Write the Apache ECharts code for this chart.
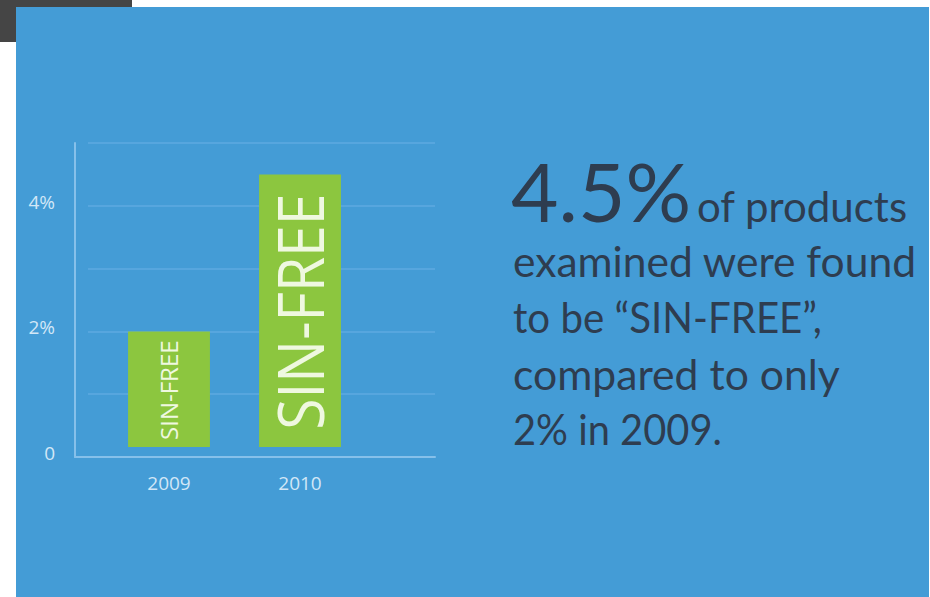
<!DOCTYPE html>
<html>
<head>
<meta charset="utf-8">
<script src="https://cdn.jsdelivr.net/npm/echarts@6/dist/echarts.min.js"></script>
<style>
html,body{margin:0;padding:0;background:#fff;}
#chart{width:930px;height:597px;}
</style>
</head>
<body>
<div id="chart"></div>
<script>
// ---- data ----
const categories = ['2009', '2010'];
const sinFreeShare = [2, 4.5];
const yTickValues = [0, 2, 4];
const yTickLabels = ['0', '2%', '4%'];
const barLabel = 'SIN-FREE';
const headline = '4.5%';
const headlineTail = 'of products';
const bodyLines = ['examined were found', 'to be \u201CSIN-FREE\u201D,', 'compared to only', '2% in 2009.'];

// ---- styles / layout ----
const barLabelSizes = [24, 64];
const barLabelStretch = [1, 0.89];
const bodyBaselines = [282, 338, 395, 450];
const bodyWidths = [404, 309, 327, 209];
const tailWidth = 211;
const BLUE = '#449cd6';
const GREEN = '#8cc63f';
const AXIS_TXT = '#d2e7f7';
const TEXT_DARK = '#2e3d50';

const measureCtx = document.createElement('canvas').getContext('2d');
function fitScale(text, font, target) {
  measureCtx.font = font;
  const w = measureCtx.measureText(text).width;
  return w > 0 ? target / w : 1;
}

const chart = echarts.init(document.getElementById('chart'), null, {renderer: 'svg'});

const gridTop = 143, gridHeight = 314;
const bodyFont = '43px Lato';

const textEls = [];
textEls.push({type: 'text', x: 511, y: 231, z: 100,
  style: {text: headline, font: '82px Lato', fill: TEXT_DARK, textAlign: 'left', verticalAlign: 'bottom'}});
textEls.push({type: 'text', x: 697, y: 227, z: 100, scaleX: fitScale(headlineTail, bodyFont, tailWidth),
  style: {text: headlineTail, font: bodyFont, fill: TEXT_DARK, textAlign: 'left', verticalAlign: 'bottom'}});
bodyLines.forEach((t, i) => {
  textEls.push({type: 'text', x: 513, y: bodyBaselines[i], z: 100, scaleX: fitScale(t, bodyFont, bodyWidths[i]),
    style: {text: t, font: bodyFont, fill: TEXT_DARK, textAlign: 'left', verticalAlign: 'bottom'}});
});

const option = {
  backgroundColor: '#ffffff',
  animation: false,
  graphic: {elements: [
    {type: 'rect', z: -100, shape: {x: 16, y: 7, width: 913, height: 590}, style: {fill: BLUE}},
    {type: 'rect', z: -100, shape: {x: 0, y: 0, width: 132, height: 42}, style: {fill: '#454545'}},
    {type: 'rect', z: -100, shape: {x: 16, y: 7, width: 116, height: 35}, style: {fill: BLUE}}
  ].concat(textEls)},
  grid: [
    {left: 75, top: gridTop, width: 360, height: gridHeight},
    {left: 88, top: gridTop, width: 347, height: gridHeight},
    {left: 103.5, top: gridTop, width: 262, height: gridHeight}
  ],
  xAxis: [
    {gridIndex: 0, type: 'category', data: categories, offset: 2,
     axisLine: {show: true, lineStyle: {color: '#86c0ea', width: 2}},
     axisTick: {show: false}, axisLabel: {show: false}, splitLine: {show: false}},
    {gridIndex: 1, type: 'category', data: categories, show: false},
    {gridIndex: 2, type: 'category', data: categories,
     axisLine: {show: false}, axisTick: {show: false},
     axisLabel: {color: AXIS_TXT, fontSize: 19, fontFamily: 'Open Sans', margin: 16}}
  ],
  yAxis: [
    {gridIndex: 0, type: 'value', min: 0, max: 5, interval: 1,
     axisLine: {show: true, lineStyle: {color: '#86c0ea', width: 2}},
     axisTick: {show: false}, splitLine: {show: false},
     axisLabel: {color: AXIS_TXT, fontSize: 19, fontFamily: 'Open Sans', margin: 20,
       verticalAlign: 'bottom', lineHeight: 8,
       formatter: v => { const k = yTickValues.indexOf(v); return k >= 0 ? yTickLabels[k] : ''; }}},
    {gridIndex: 1, type: 'value', min: 0, max: 5, interval: 1,
     axisLine: {show: false}, axisTick: {show: false}, axisLabel: {show: false},
     splitLine: {show: true, lineStyle: {color: '#5eaae0', width: 1.5}}},
    {gridIndex: 2, type: 'value', min: 0, max: 5, interval: 1, show: false, splitLine: {show: false}}
  ],
  series: [{
    type: 'custom',
    xAxisIndex: 2, yAxisIndex: 2,
    data: sinFreeShare.map((v, i) => [i, v]),
    encode: {x: 0, y: 1},
    renderItem: function (params, api) {
      const i = api.value(0), v = api.value(1);
      const top = api.coord([i, v]);
      const base = api.coord([i, 0]);
      const bw = api.size([1, 0])[0] * 0.625;
      const bottom = base[1] - 10;
      const k = params.dataIndex;
      return {type: 'group', children: [
        {type: 'rect', shape: {x: top[0] - bw / 2, y: top[1], width: bw, height: bottom - top[1]}, style: {fill: GREEN}},
        {type: 'text', x: top[0] - 1, y: (top[1] + bottom) / 2 + 1, rotation: Math.PI / 2,
         scaleX: barLabelStretch[k], scaleY: 1,
         style: {text: barLabel, fill: '#eff8e0', font: barLabelSizes[k] + 'px "Open Sans"',
                 align: 'center', verticalAlign: 'middle'}}
      ]};
    }
  }]
};
chart.setOption(option);
</script>
</body>
</html>
